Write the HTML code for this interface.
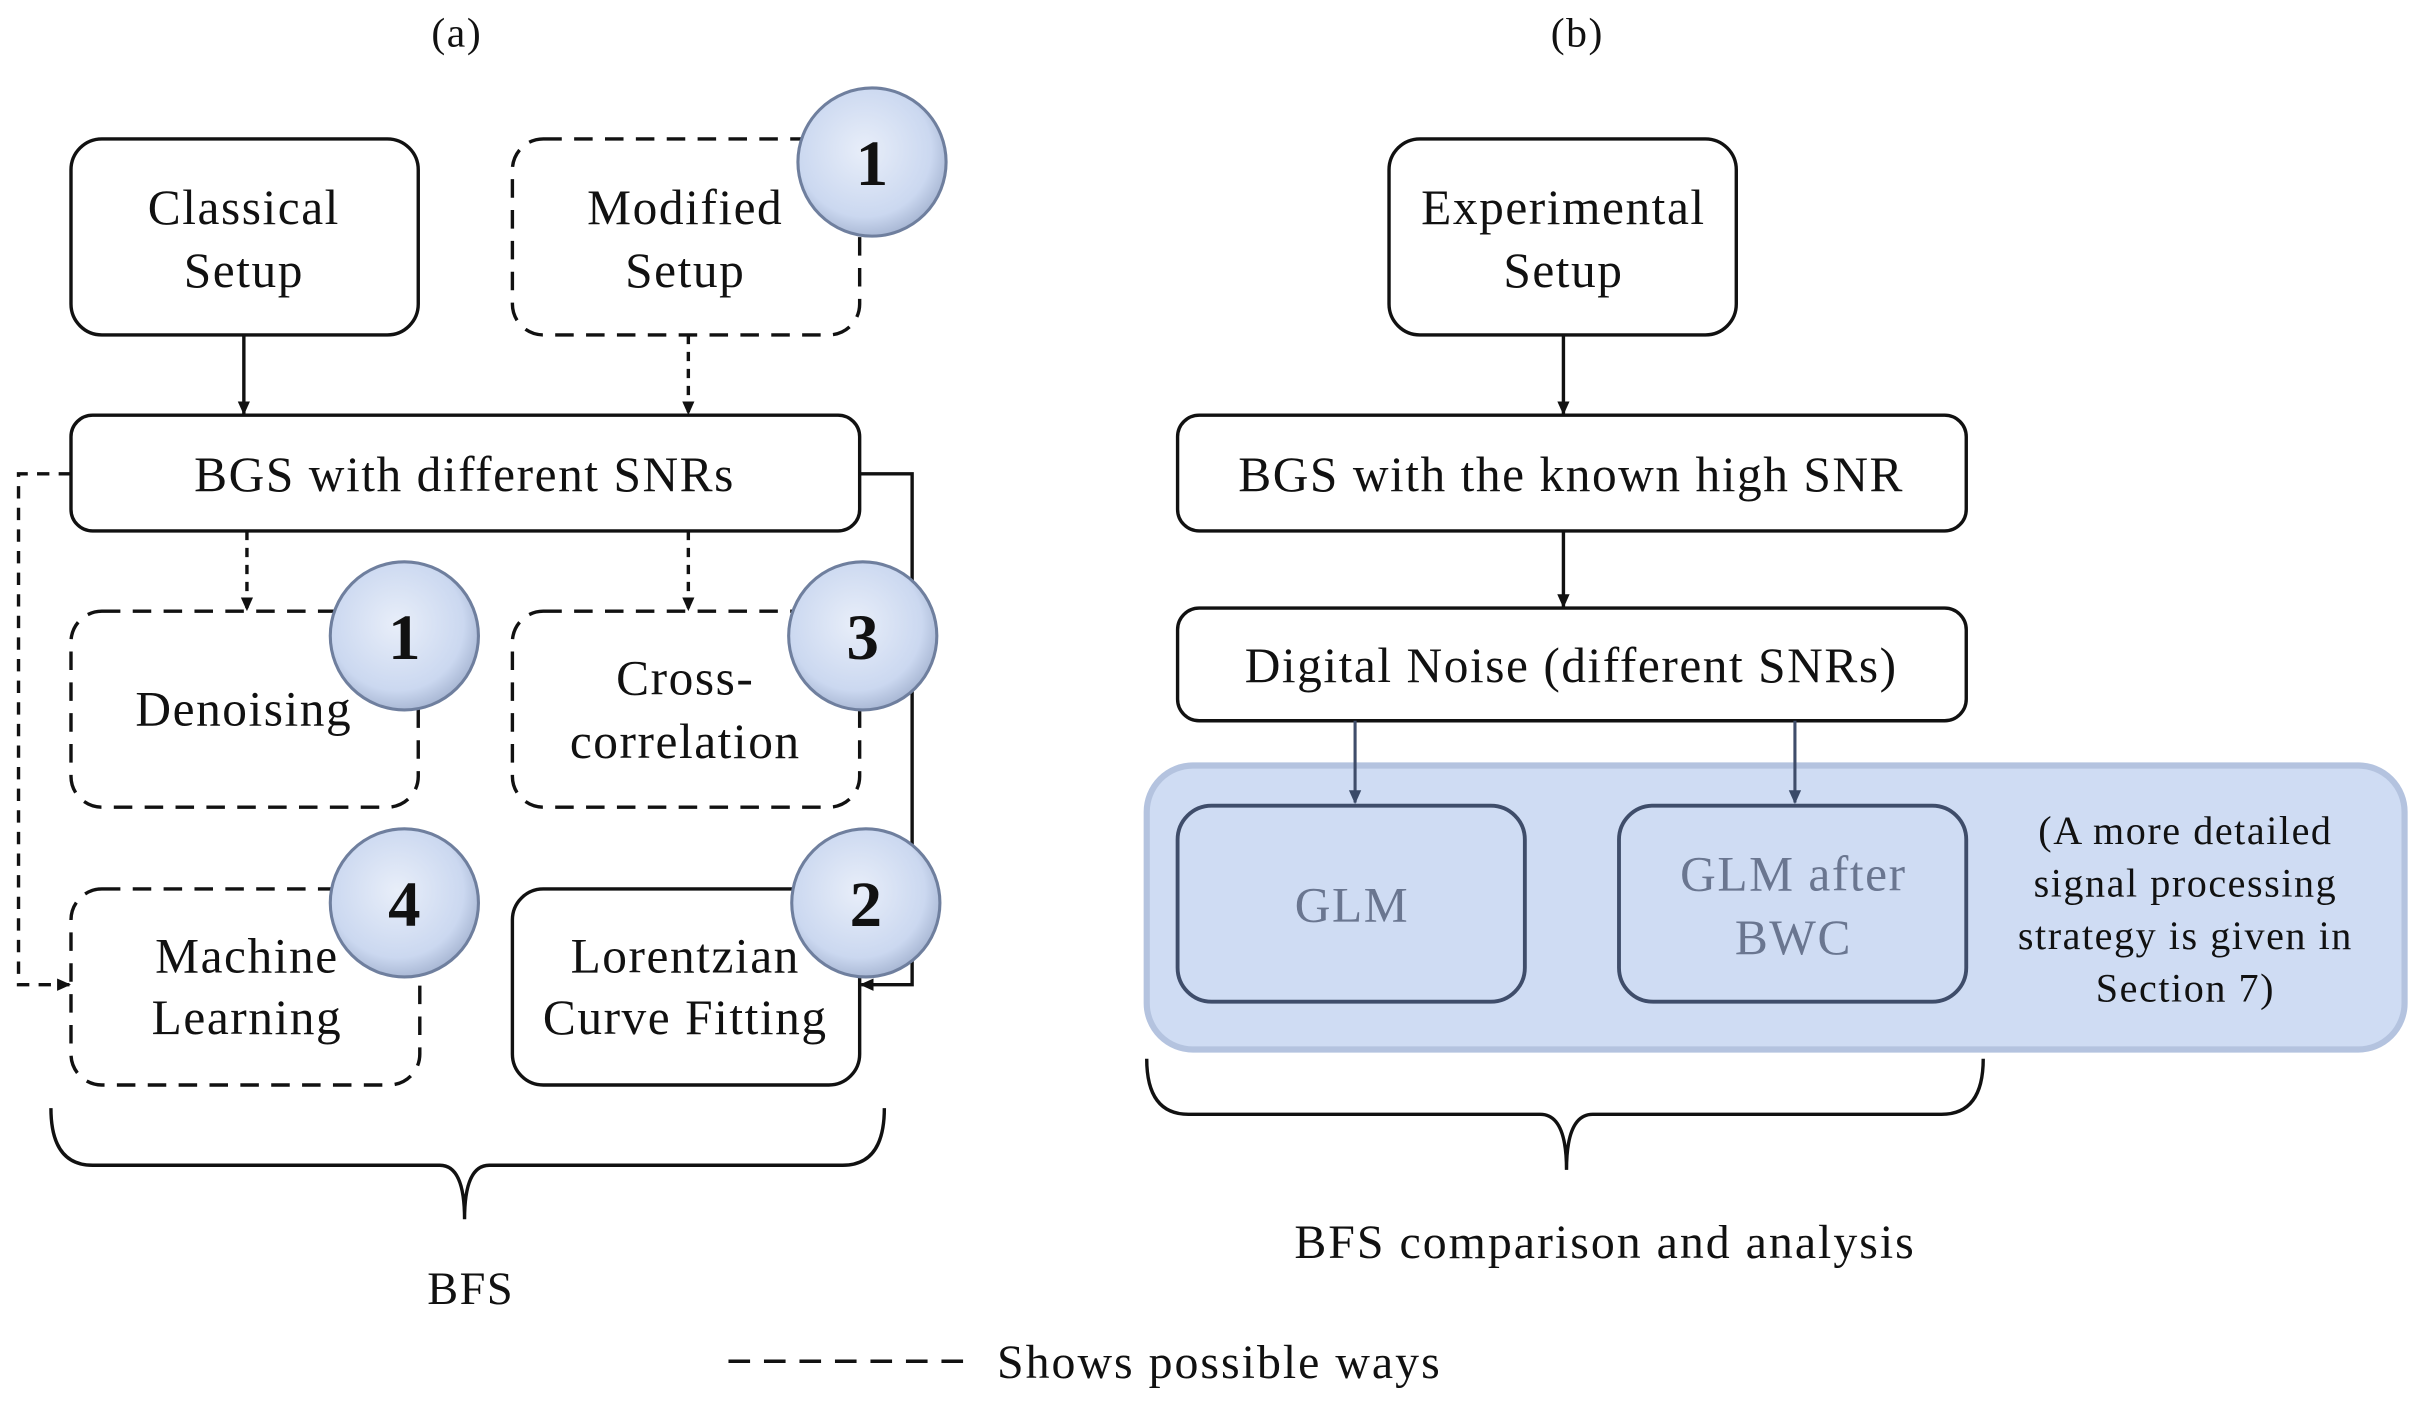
<!DOCTYPE html>
<html><head><meta charset="utf-8"><style>
html,body{margin:0;padding:0;background:#fff;}
svg{display:block;}
text{font-family:"Liberation Serif",serif;fill:#111;}
</style></head><body>
<svg width="2420" height="1402" viewBox="0 0 1568 908.4" preserveAspectRatio="none" xmlns="http://www.w3.org/2000/svg">
<defs>
<marker id="ah" markerWidth="10" markerHeight="10" refX="8" refY="5" orient="auto" markerUnits="userSpaceOnUse"><path d="M0,1 L9,5 L0,9 z" fill="#111"/></marker>
<marker id="ah2" markerWidth="10" markerHeight="10" refX="8" refY="5" orient="auto" markerUnits="userSpaceOnUse"><path d="M0,1 L9,5 L0,9 z" fill="#3a4a68"/></marker>
<radialGradient id="cg" cx="45%" cy="42%" r="60%"><stop offset="0" stop-color="#e8eef9"/><stop offset="0.75" stop-color="#cbd8f0"/><stop offset="1" stop-color="#a6b5d2"/></radialGradient>
</defs>
<g stroke="#111" stroke-width="2.2" fill="none">
<rect x="46" y="90" width="225" height="127" rx="20" fill="#fff"/>
<rect x="332" y="90" width="225" height="127" rx="20" stroke-dasharray="12,8"/>
<rect x="46" y="269" width="511" height="75" rx="14" fill="#fff"/>
<rect x="46" y="396" width="225" height="127" rx="20" stroke-dasharray="12,8"/>
<rect x="332" y="396" width="225" height="127" rx="20" stroke-dasharray="12,8"/>
<rect x="46" y="576" width="226" height="127" rx="20" stroke-dasharray="12,8"/>
<rect x="332" y="576" width="225" height="127" rx="20" fill="#fff"/>
<line x1="158" y1="217" x2="158" y2="268" marker-end="url(#ah)"/>
<line x1="446" y1="217" x2="446" y2="268" stroke-dasharray="6,5" marker-end="url(#ah)"/>
<line x1="160" y1="344" x2="160" y2="395" stroke-dasharray="6,5" marker-end="url(#ah)"/>
<line x1="446" y1="344" x2="446" y2="395" stroke-dasharray="6,5" marker-end="url(#ah)"/>
<polyline points="46,307 12,307 12,638 45,638" stroke-dasharray="8,6" marker-end="url(#ah)"/>
<polyline points="557,307 591,307 591,638 558,638" marker-end="url(#ah)"/>
<path d="M33,718 Q33,755 60,755 L285,755 Q301,755 301,790 Q301,755 317,755 L546,755 Q573,755 573,718"/>
<rect x="900" y="90" width="225" height="127" rx="20" fill="#fff"/>
<rect x="763" y="269" width="511" height="75" rx="14" fill="#fff"/>
<rect x="763" y="394" width="511" height="73" rx="14" fill="#fff"/>
<line x1="1013" y1="217" x2="1013" y2="268" marker-end="url(#ah)"/>
<line x1="1013" y1="344" x2="1013" y2="393" marker-end="url(#ah)"/>
<path d="M743,686 Q743,722 770,722 L998,722 Q1015,722 1015,758 Q1015,722 1032,722 L1258,722 Q1285,722 1285,686"/>
<line x1="472" y1="882" x2="630" y2="882" stroke-dasharray="14,9"/>
</g>
<rect x="743" y="496" width="815" height="184" rx="30" fill="#cfdcf3" stroke="#b4c3df" stroke-width="4"/>
<g stroke="#3f4d6a" stroke-width="2.5" fill="none">
<rect x="763" y="522" width="225" height="127" rx="22"/>
<rect x="1049" y="522" width="225" height="127" rx="22"/>
<line x1="878" y1="467" x2="878" y2="520" stroke-width="2" marker-end="url(#ah2)"/>
<line x1="1163" y1="467" x2="1163" y2="520" stroke-width="2" marker-end="url(#ah2)"/>
</g>
<g stroke="#6f7f9e" stroke-width="2" fill="url(#cg)">
<circle cx="565" cy="105" r="48"/>
<circle cx="262" cy="412" r="48"/>
<circle cx="559" cy="412" r="48"/>
<circle cx="262" cy="585" r="48"/>
<circle cx="561" cy="585" r="48"/>
</g>
<g font-size="32" text-anchor="middle" letter-spacing="1">
<text x="296" y="30" font-size="27">(a)</text>
<text x="1022" y="30" font-size="27">(b)</text>
<text x="158" y="145">Classical</text><text x="158" y="186">Setup</text>
<text x="444" y="145">Modified</text><text x="444" y="186">Setup</text>
<text x="301" y="318">BGS with different SNRs</text>
<text x="158" y="470">Denoising</text>
<text x="444" y="450">Cross-</text><text x="444" y="491">correlation</text>
<text x="160" y="630">Machine</text><text x="160" y="670">Learning</text>
<text x="444" y="630">Lorentzian</text><text x="444" y="670">Curve Fitting</text>
<text x="305" y="845" font-size="30">BFS</text>
<text x="1013" y="145">Experimental</text><text x="1013" y="186">Setup</text>
<text x="1018" y="318">BGS with the known high SNR</text>
<text x="1018" y="442">Digital Noise (different SNRs)</text>
<text x="876" y="597" style="fill:#6a7690">GLM</text>
<text x="1162" y="577" style="fill:#6a7690">GLM after</text><text x="1162" y="618" style="fill:#6a7690">BWC</text>
<g font-size="26"><text x="1416" y="547">(A more detailed</text><text x="1416" y="581">signal processing</text><text x="1416" y="615">strategy is given in</text><text x="1416" y="649">Section 7)</text></g>
<text x="1040" y="815" font-size="31" letter-spacing="1.3">BFS comparison and analysis</text>
<g font-size="42" font-weight="bold" letter-spacing="0"><text x="565" y="120">1</text><text x="262" y="427">1</text><text x="559" y="427">3</text><text x="262" y="600">4</text><text x="561" y="600">2</text></g>
</g>
<text x="646" y="893" font-size="31" letter-spacing="1.3">Shows possible ways</text>
</svg>
</body></html>
